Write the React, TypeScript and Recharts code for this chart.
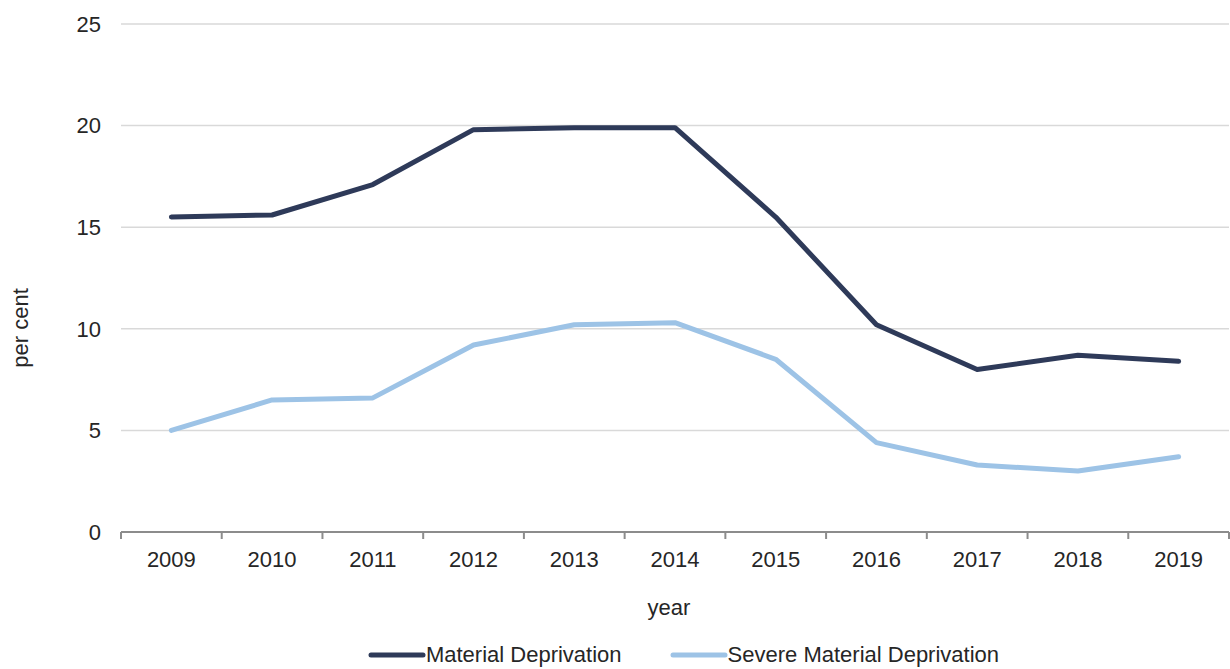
import React from 'react';
import { LineChart, Line, XAxis, YAxis, CartesianGrid, Legend } from 'recharts';

// years on the x axis
const years = ['2009', '2010', '2011', '2012', '2013', '2014', '2015', '2016', '2017', '2018', '2019'];

// per cent values
const materialDeprivation = [15.5, 15.6, 17.1, 19.8, 19.9, 19.9, 15.5, 10.2, 8.0, 8.7, 8.4];
const severeMaterialDeprivation = [5.0, 6.5, 6.6, 9.2, 10.2, 10.3, 8.5, 4.4, 3.3, 3.0, 3.7];

const yTicks = [0, 5, 10, 15, 20, 25];

const DARK = '#2e3a59';
const LIGHT = '#9dc3e6';
const TEXT = '#262626';
const FONT = '"Liberation Sans", Arial, sans-serif';

const W = 1230;
const H = 669;
const MARGIN = { top: 24, right: 1, left: 0, bottom: 0 };
const Y_AXIS_W = 121;
const PLOT_W = W - MARGIN.left - MARGIN.right - Y_AXIS_W;
const HALF_BAND = PLOT_W / years.length / 2;

const data = years.map((year, i) => ({
  year,
  md: materialDeprivation[i],
  smd: severeMaterialDeprivation[i],
}));

const series = [
  { key: 'md', name: 'Material Deprivation', color: DARK },
  { key: 'smd', name: 'Severe Material Deprivation', color: LIGHT },
];

// tick label at the centre, tick marks on the category boundaries (Excel style)
const YearTick = (props: any) => {
  const { x, y, payload, index } = props;
  const half = payload?.offset || HALF_BAND;
  const axisY = y - 19;
  const last = index === years.length - 1;
  return (
    <g>
      <line x1={x - half} x2={x - half} y1={axisY} y2={axisY + 7} stroke="#8c8c8c" strokeWidth={2} />
      {last && <line x1={x + half} x2={x + half} y1={axisY} y2={axisY + 7} stroke="#8c8c8c" strokeWidth={2} />}
      <text x={x} y={y} dy="0.71em" textAnchor="middle" fill={TEXT} fontSize={22} fontFamily={FONT}>
        {payload.value}
      </text>
    </g>
  );
};

const YearLabel = (props: any) => {
  const { viewBox } = props;
  return (
    <text
      x={viewBox.x + viewBox.width / 2 - 6}
      y={viewBox.y + 75}
      dy="0.35em"
      textAnchor="middle"
      fill={TEXT}
      fontSize={22}
      fontFamily={FONT}
    >
      year
    </text>
  );
};

const PerCentLabel = (props: any) => {
  const { viewBox } = props;
  const cx = 20;
  const cy = viewBox.y + viewBox.height / 2 + 50;
  return (
    <text
      x={cx}
      y={cy}
      dy="0.35em"
      textAnchor="middle"
      transform={`rotate(-90, ${cx}, ${cy})`}
      fill={TEXT}
      fontSize={22}
      fontFamily={FONT}
    >
      per cent
    </text>
  );
};

const LegendContent = () => (
  <div
    style={{
      display: 'flex',
      justifyContent: 'center',
      alignItems: 'center',
      paddingLeft: 137,
      fontFamily: FONT,
      fontSize: 22,
      color: TEXT,
      lineHeight: '26px',
    }}
  >
    {series.map((s, i) => (
      <div key={s.key} style={{ display: 'flex', alignItems: 'center', marginLeft: i === 0 ? 0 : 48 }}>
        <svg width={58} height={8} style={{ display: 'block' }}>
          <line x1={3} x2={55} y1={4} y2={4} stroke={s.color} strokeWidth={5} strokeLinecap="round" />
        </svg>
        <span style={{ marginLeft: 0 }}>{s.name}</span>
      </div>
    ))}
  </div>
);

export default function App() {
  return (
    <div style={{ position: 'absolute', left: 0, top: 0, background: '#fff' }}>
      <LineChart width={W} height={H} data={data} margin={MARGIN} style={{ fontFamily: FONT }}>
        <CartesianGrid vertical={false} stroke="#d9d9d9" strokeWidth={1.5} />
        <XAxis
          dataKey="year"
          height={H - 532}
          padding={{ left: HALF_BAND, right: HALF_BAND }}
          axisLine={{ stroke: '#8c8c8c', strokeWidth: 2 }}
          tickLine={false}
          tickSize={0}
          tickMargin={19}
          tick={<YearTick />}
          interval={0}
          label={<YearLabel />}
        />
        <YAxis
          width={Y_AXIS_W}
          domain={[0, 25]}
          ticks={yTicks}
          axisLine={false}
          tickLine={false}
          tickSize={0}
          tickMargin={20}
          tick={{ fill: TEXT, fontSize: 22, fontFamily: FONT }}
          label={<PerCentLabel />}
        />
        <Legend
          verticalAlign="middle"
          align="center"
          layout="horizontal"
          wrapperStyle={{ top: 642, left: 0, width: W }}
          content={<LegendContent />}
        />
        {series.map((s) => (
          <Line
            key={s.key}
            type="linear"
            dataKey={s.key}
            name={s.name}
            stroke={s.color}
            strokeWidth={5}
            strokeLinecap="round"
            strokeLinejoin="round"
            dot={false}
            activeDot={false}
            isAnimationActive={false}
          />
        ))}
      </LineChart>
    </div>
  );
}
